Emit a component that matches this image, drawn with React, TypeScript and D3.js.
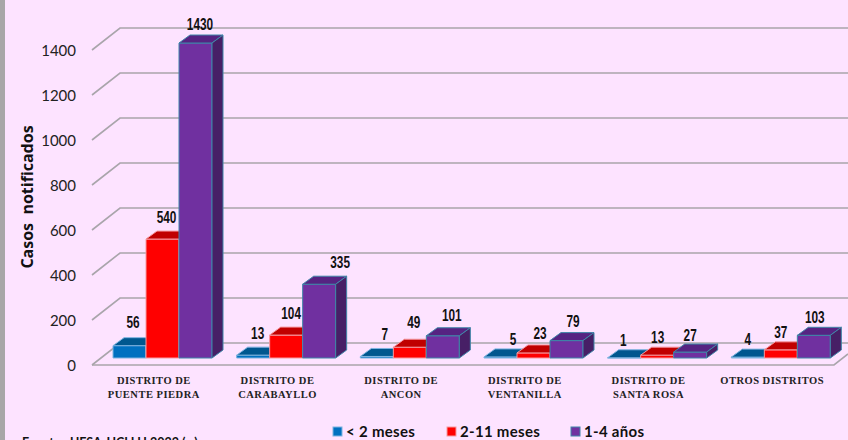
import React from "react";
import * as d3 from "d3";

const categories = [
  ["DISTRITO DE", "PUENTE PIEDRA"],
  ["DISTRITO DE", "CARABAYLLO"],
  ["DISTRITO DE", "ANCON"],
  ["DISTRITO DE", "VENTANILLA"],
  ["DISTRITO DE", "SANTA ROSA"],
  ["OTROS DISTRITOS"],
];
const under2m = [56, 13, 7, 5, 1, 4];
const m2to11 = [540, 104, 49, 23, 13, 37];
const y1to4 = [1430, 335, 101, 79, 27, 103];
const seriesNames = ["< 2 meses", "2-11 meses", "1-4 años"];
const yTicks = [0, 200, 400, 600, 800, 1000, 1200, 1400];

const W = 848, H = 440;
const BG = "#fde3ff";
const GRID = "#a9a5ab";
const palette = [
  { front: "#0070c0", top: "#00578f", side: "#004a7c", edge: "#7fb4e0" },
  { front: "#ff0000", top: "#c00000", side: "#a80000", edge: "#f59aa0" },
  { front: "#7030a0", top: "#562382", side: "#471f66", edge: "#3f86a8" },
];
const seriesValues = [under2m, m2to11, y1to4];

// hand placement of the value labels, relative to each bar's top face
const labelShiftX = [
  [3.5, 4.5, 8, 12.5, -1, 0],
  [4, 5, 4, 6.5, 0.5, 0],
  [4.5, 21, 9, 6.5, 0, 1],
];
const labelShiftY = [
  [-9.7, -8, -8.5, -3.9, -3.8, -4.1],
  [-8, -8, -11.2, -5.9, -4, -3.8],
  [-5, -8, -6.7, -5.6, -3, -4.3],
];

const axisY = d3.scaleLinear().domain([0, 1400]).range([365, 50]);
const barY = d3.scaleLinear().domain([0, 1430]).range([358, 43]);
const groupX = d3.scaleBand<number>().domain(d3.range(6)).range([92, 834]);
const barX = d3.scaleBand<number>().domain([0, 1, 2]).range([21, 120]);
const DX = 28, DY = 22, dx = 11, dy = 8;
const LEFT = 92, RIGHT = 834;

export default function App() {
  return (
    <svg width={W} height={H} viewBox={`0 0 ${W} ${H}`}
      style={{ position: "absolute", left: 0, top: 0, background: BG, display: "block" }}>
      <rect x={0} y={0} width={5} height={H} fill="#a8a6a8" />

      {yTicks.map((t) => {
        const y = axisY(t);
        return (
          <polyline key={t} stroke={GRID} strokeWidth={1.6} fill="none"
            points={`${LEFT},${y} ${LEFT + DX},${y - DY} ${W},${y - DY}`} />
        );
      })}
      <polyline points={`${LEFT},${axisY(0)} ${RIGHT},${axisY(0)} ${W},${axisY(0) - 11}`}
        stroke={GRID} strokeWidth={1.6} fill="none" />

      {yTicks.map((t) => (
        <text key={t} x={76} y={axisY(t) + 5.5} textAnchor="end" fontFamily="Lato, sans-serif"
          fontSize={15} fill="#222">{t}</text>
      ))}

      <text transform="translate(33,197) rotate(-90)" textAnchor="middle"
        fontFamily="'Open Sans', sans-serif" fontWeight={700} fontSize={16} fill="#111" xmlSpace="preserve">
        Casos  notificados
      </text>

      {categories.map((_, g) =>
        seriesValues.map((vals, s) => {
          const x = groupX(g)! + barX(s)!;
          const w = barX.bandwidth();
          const y0 = barY(0), y1 = barY(vals[g]);
          const c = palette[s];
          return (
            <g key={`${g}-${s}`} stroke={c.edge} strokeWidth={1} strokeLinejoin="round">
              <rect x={x} y={y1} width={w} height={y0 - y1} fill={c.front} />
              <polygon fill={c.top}
                points={`${x},${y1} ${x + dx},${y1 - dy} ${x + w + dx},${y1 - dy} ${x + w},${y1}`} />
              <polygon fill={c.side}
                points={`${x + w},${y1} ${x + w + dx},${y1 - dy} ${x + w + dx},${y0 - dy} ${x + w},${y0}`} />
            </g>
          );
        })
      )}

      {categories.map((_, g) =>
        seriesValues.map((vals, s) => (
          <text key={`l${g}-${s}`}
            transform={`translate(${groupX(g)! + barX(s)! + barX.bandwidth() / 2 + labelShiftX[s][g]},${barY(vals[g]) - dy + labelShiftY[s][g]}) scale(0.74,1)`}
            textAnchor="middle" fontFamily="'Liberation Sans', sans-serif" fontWeight={700} fontSize={16} fill="#111">
            {vals[g]}
          </text>
        ))
      )}

      {categories.map((lines, g) => (
        <text key={g} textAnchor="middle" fontFamily="'Liberation Serif', serif" fontWeight={700}
          fontSize={10.5} letterSpacing={0.5} fill="#222">
          {lines.map((l, i) => (
            <tspan key={i} x={groupX(g)! + groupX.bandwidth() / 2} y={384 + i * 14}>{l}</tspan>
          ))}
        </text>
      ))}

      {seriesNames.map((n, i) => {
        const xs = [333, 447, 571];
        return (
          <g key={n}>
            <rect x={xs[i]} y={427} width={9} height={9} fill={palette[i].front} stroke={palette[i].edge} />
            <text x={xs[i] + 13} y={437} fontFamily="Lato, sans-serif" fontWeight={700} fontSize={15}
              letterSpacing={0.3} fill="#111">{n}</text>
          </g>
        );
      })}

      <text x={22} y={447} fontFamily="Lato, sans-serif" fontWeight={700} fontSize={12.5} fill="#111">
        Fuente : UESA-HCLLH 2022 (...)
      </text>
    </svg>
  );
}
